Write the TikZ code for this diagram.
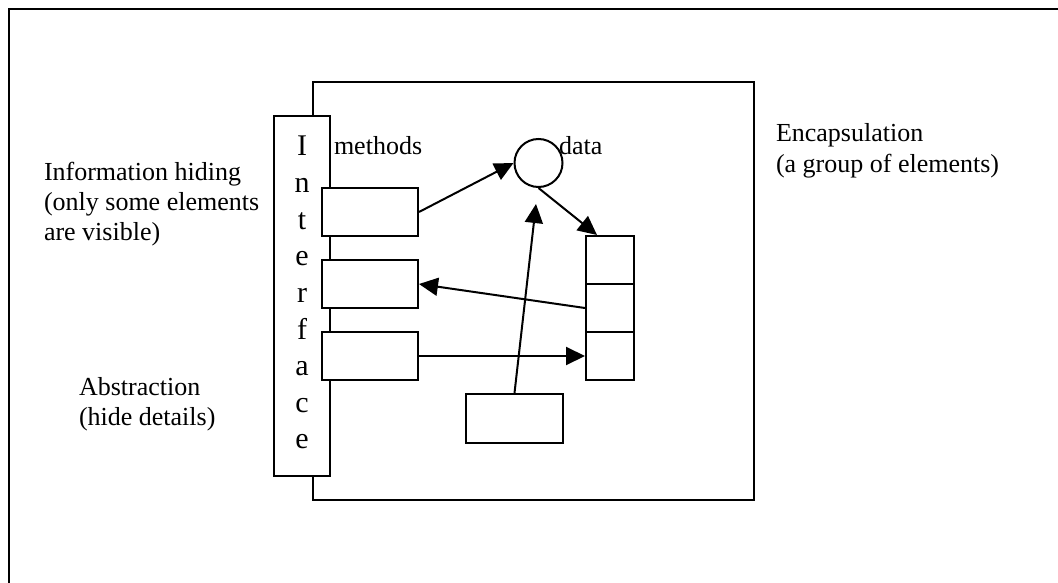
\documentclass[tikz,border=0pt]{standalone}
\usepackage{fontspec}
\setmainfont{Liberation Serif}
\usetikzlibrary{arrows.meta}
\begin{document}
\begin{tikzpicture}[x=1pt, y=-1pt, line width=2pt,
  txt/.style={inner sep=0pt, anchor=base west, font=\fontsize{26}{30}\selectfont},
  letter/.style={inner sep=0pt, anchor=base, font=\fontsize{30}{36}\selectfont},
  frame/.style={draw, line width=2pt, inner sep=0pt},
  slot/.style={frame, fill=white, minimum width=96pt, minimum height=48pt},
  cell/.style={frame, fill=white, minimum width=48pt, minimum height=48pt},
  link/.style={-{Triangle[length=19pt, width=18pt]}, line width=2pt}]
\useasboundingbox (0,0) rectangle (1058,583);
% outer frame, running off the page at right and bottom
\draw[line width=2.5pt] (1060,9) -- (9,9) -- (9,585);

% encapsulating object and its interface strip
\node[frame, minimum width=441pt, minimum height=418pt] (enc) at (533.5,291) {};
\node[frame, fill=white, minimum width=56pt, minimum height=360pt] (iface) at (302,296) {};
\foreach \ch [count=\i] in {I,n,t,e,r,f,a,c,e}
  \node[letter] (l\i) at (302,{156+36.6*(\i-1)}) {\ch};

% method slots on the interface
\node[slot] (m1) at (370,212) {};
\node[slot] (m2) at (370,284) {};
\node[slot] (m3) at (370,356) {};

% data: circle, stacked cells and a hidden element
\node[frame, circle, minimum size=48pt] (c) at (538.5,163) {};
\node[cell] (s1) at (610,260) {};
\node[cell] (s2) at (610,308) {};
\node[cell] (s3) at (610,356) {};
\node[frame, fill=white, minimum width=97pt, minimum height=49pt] (b) at (514.5,418.5) {};
\coordinate (bend) at (536,204);

% labels
\node[txt] (meth) at (333,155) {methods};
\node[txt] (dat) at (558,155) {data};
\node[txt] (ih1) at (43,180) {Information hiding};
\node[txt] (ih2) at (43,210) {(only some elements};
\node[txt] (ih3) at (43,240) {are visible)};
\node[txt] (ab1) at (78,395) {Abstraction};
\node[txt] (ab2) at (78,425) {(hide details)};
\node[txt] (en1) at (775,142) {Encapsulation};
\node[txt] (en2) at (775,172) {(a group of elements)};

% connectors
\draw[link] (m1.east) -- (c.west);
\draw[link] (c.south) -- ([xshift=12pt]s1.north west);
\draw[link] (s2.west) -- (m2.east);
\draw[link] (m3.east) -- (s3.west);
\draw[link] (b.north) -- (bend);
\end{tikzpicture}
\end{document}
